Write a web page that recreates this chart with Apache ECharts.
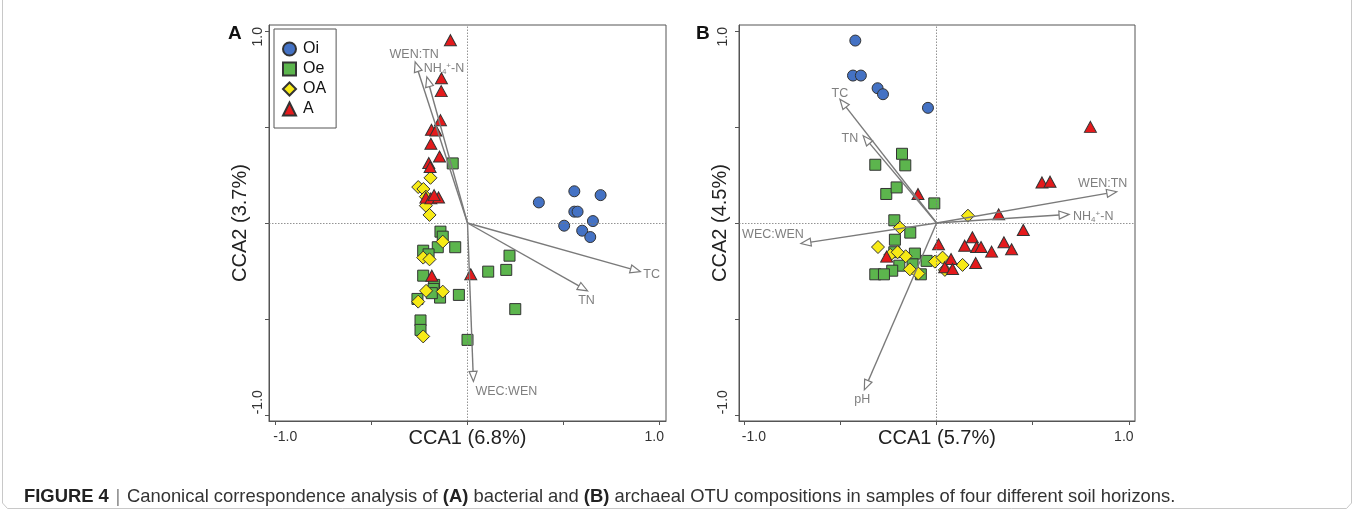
<!DOCTYPE html>
<html><head><meta charset="utf-8">
<script src="https://cdn.jsdelivr.net/npm/echarts@6/dist/echarts.min.js"></script>
<style>html,body{margin:0;padding:0;background:#fff}#c{width:1354px;height:513px}</style>
</head><body><div id="c"></div>
<script>
// ---------- data ----------
const seriesNames = ['Oi', 'Oe', 'OA', 'A'];
const axisTickValues = [-1, -0.5, 0, 0.5, 1];
const axisLabelValues = [-1, 1];
const axisTitlesA = ['CCA1 (6.8%)', 'CCA2 (3.7%)'];
const axisTitlesB = ['CCA1 (5.7%)', 'CCA2 (4.5%)'];

// Panel A (bacteria)
const oiA = [[0.372,0.107],[0.557,0.165],[0.694,0.145],[0.557,0.059],[0.574,0.059],[0.504,-0.014],[0.654,0.010],[0.598,-0.040],[0.640,-0.073]];
const oeA = [[-0.077,0.310],[-0.141,-0.045],[-0.129,-0.071],[-0.155,-0.126],[-0.064,-0.126],[-0.231,-0.144],[-0.203,-0.163],[-0.231,-0.274],[-0.174,-0.322],[-0.177,-0.343],[-0.143,-0.388],[-0.186,-0.365],[-0.045,-0.374],[-0.261,-0.395],[-0.245,-0.507],[-0.245,-0.556],[0.000,-0.608],[0.219,-0.170],[0.202,-0.244],[0.108,-0.253],[0.249,-0.448]];
const oaA = [[-0.193,0.235],[-0.257,0.187],[-0.230,0.177],[-0.217,0.137],[-0.217,0.090],[-0.198,0.042],[-0.129,-0.097],[-0.231,-0.180],[-0.198,-0.189],[-0.216,-0.353],[-0.129,-0.357],[-0.257,-0.409],[-0.231,-0.590]];
const aA = [[-0.089,0.951],[-0.136,0.753],[-0.137,0.686],[-0.141,0.535],[-0.188,0.485],[-0.165,0.481],[-0.191,0.412],[-0.146,0.346],[-0.202,0.312],[-0.195,0.291],[-0.217,0.132],[-0.191,0.128],[-0.151,0.133],[-0.174,0.145],[-0.186,-0.274],[0.017,-0.267]];
const arrowNamesA = ['WEN:TN', 'NH4+-N', 'TC', 'TN', 'WEC:WEN'];
const arrowXA = [-0.273, -0.212, 0.901, 0.626, 0.031];
const arrowYA = [0.838, 0.760, -0.253, -0.353, -0.824];

// Panel B (archaea)
const oiB = [[-0.423,0.949],[-0.435,0.767],[-0.394,0.767],[-0.307,0.701],[-0.279,0.670],[-0.045,0.599]];
const oeB = [[-0.180,0.360],[-0.319,0.303],[-0.163,0.300],[-0.262,0.151],[-0.208,0.185],[-0.012,0.102],[-0.220,0.014],[-0.137,-0.050],[-0.217,-0.087],[-0.113,-0.159],[-0.220,-0.152],[-0.125,-0.215],[-0.052,-0.197],[-0.194,-0.222],[-0.231,-0.248],[-0.319,-0.267],[-0.274,-0.267],[-0.082,-0.267]];
const oaB = [[0.163,0.038],[-0.191,-0.024],[-0.305,-0.125],[-0.241,-0.166],[-0.161,-0.173],[-0.203,-0.152],[-0.009,-0.201],[0.031,-0.180],[0.135,-0.218],[-0.139,-0.241],[-0.095,-0.263],[0.043,-0.244]];
const aB = [[0.800,0.500],[0.548,0.211],[0.590,0.215],[-0.097,0.151],[0.323,0.045],[0.451,-0.036],[0.010,-0.111],[0.186,-0.074],[0.146,-0.118],[0.208,-0.125],[0.231,-0.125],[0.286,-0.149],[0.350,-0.100],[0.390,-0.137],[0.203,-0.208],[0.075,-0.187],[0.042,-0.230],[0.083,-0.239],[-0.260,-0.175]];
const arrowNamesB = ['TC', 'TN', 'WEN:TN', 'NH4+-N', 'WEC:WEN', 'pH'];
const arrowXB = [-0.503, -0.382, 0.937, 0.689, -0.706, -0.376];
const arrowYB = [0.644, 0.454, 0.163, 0.045, -0.107, -0.868];

// ---------- styles ----------
const FONT = '"Liberation Sans", Arial, Helvetica, sans-serif';
const markerStyles = {
  Oi: {symbol: 'circle', size: 11, color: '#4472c4'},
  Oe: {symbol: 'rect', size: 11, color: '#5cb54d'},
  OA: {symbol: 'diamond', size: 13, color: '#f7ea16'},
  A: {symbol: 'triangle', size: [12, 11], color: '#e41a1c'}
};
// label placement relative to arrow tip (px)
const labelPlaceA = {
  'WEN:TN': {dx: -1, dy: -7, align: 'center'},
  'NH4+-N': {dx: -3, dy: -8, align: 'left'},
  'TC': {dx: 3, dy: 3, align: 'left'},
  'TN': {dx: -1, dy: 10, align: 'center'},
  'WEC:WEN': {dx: 2, dy: 10, align: 'left'}
};
const labelPlaceB = {
  'TC': {dx: 0, dy: -6, align: 'center'},
  'TN': {dx: -5, dy: 3, align: 'right'},
  'WEN:TN': {dx: -14, dy: -8, align: 'center'},
  'NH4+-N': {dx: 4, dy: 2, align: 'left'},
  'WEC:WEN': {dx: 3, dy: -9, align: 'right'},
  'pH': {dx: -2, dy: 10, align: 'center'}
};

function richName(n) {
  return n === 'NH4+-N' ? 'NH{sub|4}{sup|+}-N' : n;
}

function arrowRender(names, place) {
  return function (params, api) {
    const x = api.value(0), y = api.value(1);
    const nm = names[params.dataIndex];
    const p0 = api.coord([0, 0]);
    const p1 = api.coord([x, y]);
    const dx = p1[0] - p0[0], dy = p1[1] - p0[1];
    const len = Math.hypot(dx, dy);
    const ux = dx / len, uy = dy / len;
    const L = 10, W = 4;
    const bx = p1[0] - ux * L, by = p1[1] - uy * L;
    const px = -uy, py = ux;
    const pl = place[nm] || {dx: 0, dy: 0, align: 'center'};
    return {
      type: 'group',
      children: [
        {type: 'line', shape: {x1: p0[0], y1: p0[1], x2: bx, y2: by}, style: {stroke: '#7a7a7a', lineWidth: 1.4}},
        {type: 'polygon', shape: {points: [[p1[0], p1[1]], [bx + px * W, by + py * W], [bx - px * W, by - py * W]]},
          style: {fill: '#fff', stroke: '#7a7a7a', lineWidth: 1.2}},
        {type: 'text', x: p1[0] + pl.dx, y: p1[1] + pl.dy,
          style: {text: richName(nm), fill: '#7f7f7f', fontSize: 12.5, fontFamily: FONT, align: pl.align, verticalAlign: 'middle',
            rich: {sub: {fontSize: 8, fill: '#7f7f7f', fontFamily: FONT, verticalAlign: 'bottom', padding: [6, 0, 0, 0]},
                   sup: {fontSize: 8, fill: '#7f7f7f', fontFamily: FONT, verticalAlign: 'top', padding: [0, 0, 5, 0]}}}}
      ]
    };
  };
}

function xAxisCfg(idx, title, range) {
  return {
    type: 'value', gridIndex: idx, min: range[0], max: range[1],
    name: title, nameLocation: 'middle', nameGap: 7, nameMoveOverlap: false,
    nameTextStyle: {fontSize: 20, color: '#222', fontFamily: FONT},
    axisLine: {show: true, onZero: false, lineStyle: {color: '#555', width: 1}},
    axisTick: {show: true, inside: false, length: 4, customValues: axisTickValues, lineStyle: {color: '#555'}},
    axisLabel: {show: true, customValues: axisLabelValues, margin: 9, fontSize: 14, color: '#333', fontFamily: FONT,
      formatter: v => v < 0 ? '{lo|-1.0}' : '{hi|1.0}',
      rich: {lo: {fontSize: 14, color: '#333', fontFamily: FONT, padding: [0, 0, 0, 19]},
             hi: {fontSize: 14, color: '#333', fontFamily: FONT, padding: [0, 10, 0, 0]}}},
    splitLine: {show: false}
  };
}
function yAxisCfg(idx, title, range, nameGap, labelMargin) {
  return {
    type: 'value', gridIndex: idx, min: range[0], max: range[1],
    name: title, nameLocation: 'middle', nameGap: nameGap, nameMoveOverlap: false,
    nameTextStyle: {fontSize: 20, color: '#222', fontFamily: FONT},
    axisLine: {show: true, onZero: false, lineStyle: {color: '#555', width: 1}},
    axisTick: {show: true, inside: false, length: 4, customValues: axisTickValues, lineStyle: {color: '#555'}},
    axisLabel: {show: true, customValues: axisLabelValues, rotate: 90, margin: labelMargin, fontSize: 14, color: '#333', fontFamily: FONT,
      formatter: v => v < 0 ? '{lo|-1.0}' : '{hi|1.0}',
      rich: {lo: {fontSize: 14, color: '#333', fontFamily: FONT, padding: [0, 0, 0, 26]},
             hi: {fontSize: 14, color: '#333', fontFamily: FONT, padding: [0, 12, 0, 0]}}},
    splitLine: {show: false}
  };
}

function scatterSeries(name, data, idx) {
  const s = markerStyles[name];
  return {
    type: 'scatter', name: name, xAxisIndex: idx, yAxisIndex: idx, data: data,
    symbol: s.symbol, symbolSize: s.size, z: 3,
    itemStyle: {color: s.color, borderColor: '#333', borderWidth: 1, opacity: 1}
  };
}
function refSeries(idx) {
  return {
    type: 'scatter', name: '_ref' + idx, xAxisIndex: idx, yAxisIndex: idx, data: [[0, 0]], symbolSize: 0, z: 1,
    markLine: {silent: true, symbol: 'none', label: {show: false}, animation: false,
      lineStyle: {color: '#777', width: 0.8, type: [1.5, 1.5]},
      data: [{xAxis: 0}, {yAxis: 0}]}
  };
}
function arrowSeries(names, xs, ys, idx, place) {
  return {
    type: 'custom', name: '_arrows' + idx, xAxisIndex: idx, yAxisIndex: idx, z: 5, clip: false,
    renderItem: arrowRender(names, place),
    data: names.map((n, i) => [xs[i], ys[i]])
  };
}

const chart = echarts.init(document.getElementById('c'), null, {renderer: 'canvas'});
chart.setOption({
  animation: false,
  backgroundColor: '#fff',
  grid: [
    {left: 269, top: 25, width: 397, height: 396, show: true, borderColor: '#555', borderWidth: 1, containLabel: false},
    {left: 739, top: 25, width: 396, height: 396, show: true, borderColor: '#555', borderWidth: 1, containLabel: false}
  ],
  xAxis: [xAxisCfg(0, axisTitlesA[0], [-1.035, 1.035]), xAxisCfg(1, axisTitlesB[0], [-1.028, 1.032])],
  yAxis: [yAxisCfg(0, axisTitlesA[1], [-1.03, 1.03], 19, 4), yAxisCfg(1, axisTitlesB[1], [-1.03, 1.03], 9, 9)],
  legend: {
    data: seriesNames, orient: 'vertical', left: 274, top: 29,
    itemWidth: 13, itemHeight: 13, itemGap: 4,
    padding: [12, 10, 11, 8],
    borderColor: '#555', borderWidth: 1, backgroundColor: '#fff',
    textStyle: {fontSize: 16, lineHeight: 16, color: '#111', fontFamily: FONT, padding: [0, 0, 0, 2]},
    selectedMode: false, z: 10
  },
  graphic: [
    {type: 'text', left: 228, top: 24, style: {text: 'A', font: 'bold 19px ' + FONT, fill: '#111'}},
    {type: 'text', left: 696, top: 24, style: {text: 'B', font: 'bold 19px ' + FONT, fill: '#111'}},
    {type: 'polyline', shape: {points: [[2.5, 0], [2.5, 503], [7.5, 508.5], [1346.5, 508.5], [1351.5, 503], [1351.5, 0]]},
      style: {stroke: '#c8c8c8', lineWidth: 1, fill: null}},
    {type: 'text', left: 24, top: 488,
      style: {text: '{b|FIGURE 4}  {s||}  {n|Canonical correspondence analysis of }{b|(A)}{n| bacterial and }{b|(B)}{n| archaeal OTU compositions in samples of four different soil horizons.}',
        rich: {b: {font: 'bold 18.4px ' + FONT, fill: '#222'}, n: {font: '18.4px ' + FONT, fill: '#333'}, s: {font: '18.4px ' + FONT, fill: '#888'}}}}
  ],
  series: [
    refSeries(0), refSeries(1),
    scatterSeries('Oi', oiA, 0), scatterSeries('Oe', oeA, 0), scatterSeries('OA', oaA, 0), scatterSeries('A', aA, 0),
    scatterSeries('Oi', oiB, 1), scatterSeries('Oe', oeB, 1), scatterSeries('OA', oaB, 1), scatterSeries('A', aB, 1),
    arrowSeries(arrowNamesA, arrowXA, arrowYA, 0, labelPlaceA),
    arrowSeries(arrowNamesB, arrowXB, arrowYB, 1, labelPlaceB)
  ]
});
</script></body></html>
